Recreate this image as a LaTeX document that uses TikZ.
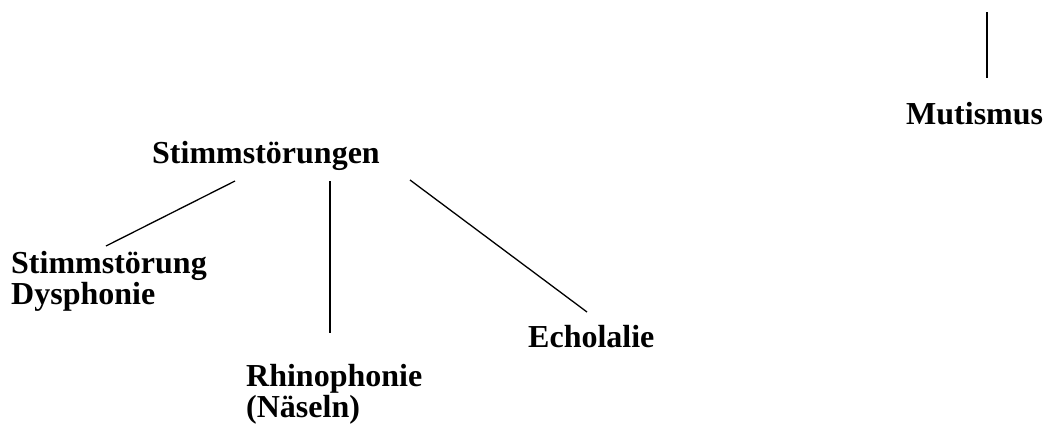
\documentclass[tikz,border=0pt]{standalone}
\usepackage{fontspec}
\setmainfont{Liberation Serif}
\usetikzlibrary{calc}
\begin{document}
\begin{tikzpicture}[x=1pt,y=-1pt,
  term/.style={anchor=base west,inner sep=0pt,align=left,
    font=\fontsize{32}{31}\selectfont\bfseries},
  branch/.style={line width=1.3pt}]
\useasboundingbox (0,0) rectangle (1046,426);
% labels (base anchor of two-line labels sits on the last line)
\node[term] (top)  at (152,163) {Stimmstörungen};
\node[term] (dys)  at (11,304)  {Stimmstörung\\Dysphonie};
\node[term] (rhi)  at (246,417) {Rhinophonie\\(Näseln)};
\node[term] (echo) at (528,347) {Echolalie};
\node[term] (mut)  at (906,124) {Mutismus};
% connector end points
\coordinate (topL) at ($(top.base west)+(83,18)$);
\coordinate (topM) at ($(top.base west)+(178,18)$);
\coordinate (topR) at ($(top.base west)+(258,17)$);
\coordinate (dysT) at ($(dys.base west)+(95,-58)$);
\coordinate (rhiT) at ($(rhi.base west)+(84,-84)$);
\coordinate (echoT) at ($(echo.base west)+(59,-35)$);
\coordinate (mutT) at ($(mut.base west)+(81,-46)$);
\coordinate (mutTop) at (987,12);
% branches
\draw[branch] (topL) -- (dysT);
\draw[branch] (topM) -- (rhiT);
\draw[branch] (topR) -- (echoT);
\draw[branch] (mutTop) -- (mutT);
\end{tikzpicture}
\end{document}
